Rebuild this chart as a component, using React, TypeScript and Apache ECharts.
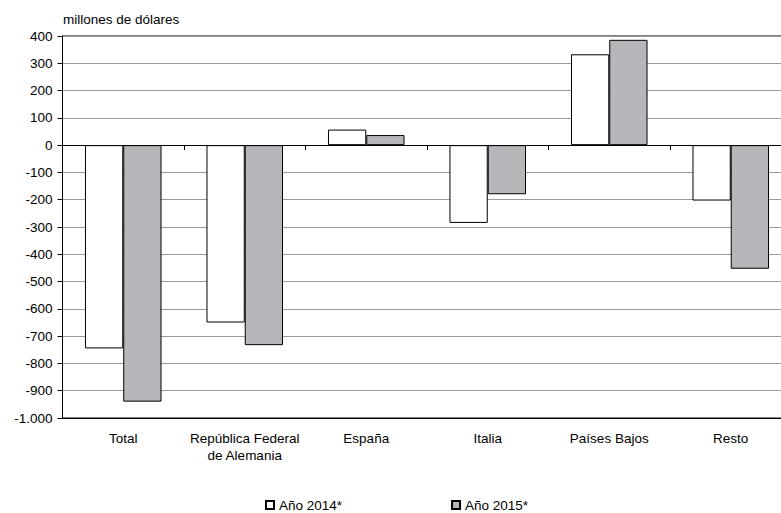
import React, { useEffect, useRef } from "react";
import * as echarts from "echarts";

const categories = [
  "Total",
  "República Federal\nde Alemania",
  "España",
  "Italia",
  "Países Bajos",
  "Resto",
];
const seriesNames = ["Año 2014*", "Año 2015*"];
const values2014 = [-745, -650, 57, -285, 333, -203];
const values2015 = [-940, -733, 37, -180, 386, -453];
const yTitle = "millones de dólares";

const FONT = "Liberation Sans, Arial, sans-serif";

function fmt(v: number): string {
  const s = Math.abs(v).toString().replace(/\B(?=(\d{3})+(?!\d))/g, ".");
  return (v < 0 ? "-" : "") + s;
}

export default function App() {
  const ref = useRef<HTMLDivElement>(null);
  useEffect(() => {
    if (!ref.current) return;
    const chart = echarts.init(ref.current, undefined, { renderer: "svg" });
    chart.setOption({
      animation: false,
      backgroundColor: "#ffffff",
      textStyle: { fontFamily: FONT, color: "#000" },
      title: {
        text: yTitle,
        left: 63,
        top: 12,
        padding: 0,
        textStyle: { fontSize: 13.5, fontWeight: "normal", color: "#000", fontFamily: FONT },
      },
      grid: {
        left: 62.5,
        top: 36,
        right: -10.5,
        bottom: 95,
        outerBoundsMode: "none",
        containLabel: false,
        show: true,
        borderColor: "#000",
        borderWidth: 1,
        backgroundColor: "transparent",
      },
      legend: {
        left: 265,
        top: 498,
        padding: 0,
        itemWidth: 8,
        itemHeight: 8,
        itemGap: 109,
        icon: "rect",
        textStyle: { fontSize: 13.5, color: "#000", fontFamily: FONT },
        data: seriesNames,
      },
      xAxis: [
        {
          type: "category",
          data: categories,
          position: "bottom",
          axisLine: { onZero: false, show: true, lineStyle: { color: "#000", width: 1 } },
          axisTick: { show: false },
          axisLabel: {
            interval: 0,
            margin: 12,
            fontSize: 13.5,
            lineHeight: 17,
            color: "#000",
            fontFamily: FONT,
          },
        },
        {
          type: "category",
          data: categories,
          position: "top",
          axisLine: { onZero: true, show: true, lineStyle: { color: "#000", width: 1 } },
          axisTick: {
            show: true,
            inside: true,
            length: 5,
            interval: 0,
            lineStyle: { color: "#000" },
          },
          axisLabel: { show: false, interval: 0 },
          splitLine: { show: false },
        },
      ],
      yAxis: {
        type: "value",
        min: -1000,
        max: 400,
        interval: 100,
        axisLine: { show: true, lineStyle: { color: "#000", width: 1 } },
        axisTick: { show: true, length: 5, lineStyle: { color: "#000" } },
        axisLabel: {
          formatter: (v: number) => fmt(v),
          fontSize: 13.5,
          color: "#000",
          margin: 10,
          fontFamily: FONT,
        },
        splitLine: { show: true, lineStyle: { color: "#9a9a9a", width: 1 } },
      },
      series: [
        {
          name: seriesNames[0],
          type: "bar",
          xAxisIndex: 0,
          data: values2014,
          barGap: "0%",
          barCategoryGap: "37%",
          itemStyle: { color: "#ffffff", borderColor: "#000", borderWidth: 1 },
        },
        {
          name: seriesNames[1],
          type: "bar",
          xAxisIndex: 0,
          data: values2015,
          barGap: "0%",
          barCategoryGap: "37%",
          itemStyle: { color: "#b6b7ba", borderColor: "#000", borderWidth: 1 },
        },
      ],
    });
    return () => chart.dispose();
  }, []);
  return (
    <div
      ref={ref}
      style={{ position: "fixed", left: 0, top: 0, width: 781, height: 513 }}
    />
  );
}
